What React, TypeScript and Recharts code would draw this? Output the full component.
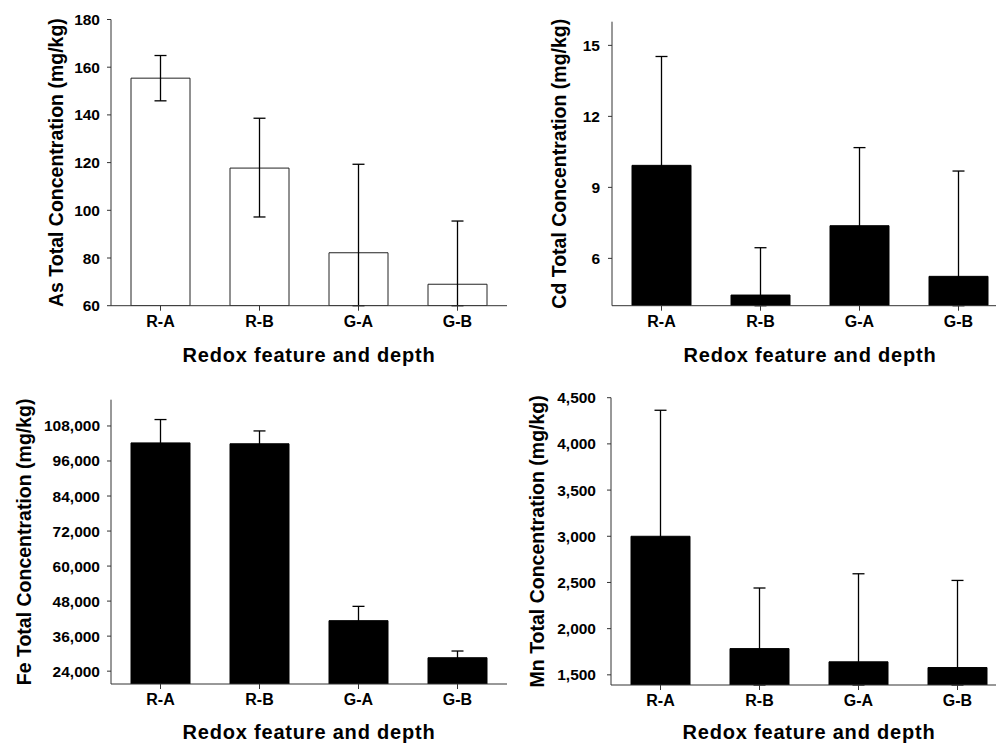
import React from 'react'
import { Bar, BarChart, ErrorBar, Label, XAxis, YAxis } from 'recharts'

const categories = ['R-A', 'R-B', 'G-A', 'G-B']

// As (open bars)
const asValues = [155.4, 117.7, 82.2, 69]
const asErrLow = [9.5, 20.5, 22.2, 9]
const asErrHigh = [9.5, 20.9, 37.1, 26.5]
const asTicks = [60, 80, 100, 120, 140, 160, 180]

// Cd
const cdValues = [9.93, 4.45, 7.38, 5.24]
const cdErrLow = [4.6, 0.45, 3.3, 1.24]
const cdErrHigh = [4.6, 2.0, 3.3, 4.45]
const cdTicks = [6, 9, 12, 15]

// Fe
const feValues = [102200, 101900, 41300, 28600]
const feErrLow = [8000, 4400, 4900, 2300]
const feErrHigh = [8000, 4400, 4900, 2300]
const feTicks = [24000, 36000, 48000, 60000, 72000, 84000, 96000, 108000]

// Mn
const mnValues = [3000, 1784, 1641, 1579]
const mnErrLow = [1364, 394, 251, 189]
const mnErrHigh = [1364, 656, 953, 943]
const mnTicks = [1500, 2000, 2500, 3000, 3500, 4000, 4500]

const font = '"Liberation Sans", Arial, sans-serif'
const axisColor = '#333'

const rows = (values: number[], low: number[], high: number[]) =>
  categories.map((name, i) => ({ name, value: values[i], err: [low[i], high[i]] }))

interface PanelProps {
  left: number
  top: number
  data: any[]
  domain: [number, number]
  ticks: number[]
  yTitle: string
  marginTop: number
  yWidth: number
  xHeight: number
  titleOffset: number
  yTitleDx: number
  tickMargin: number
  filled: boolean
  format?: (v: number) => string
}

const Panel = (p: PanelProps) => {
  return (
    <div style={{ position: 'absolute', left: p.left, top: p.top }}>
      <BarChart
        width={p.yWidth + 396 + 3}
        height={372}
        data={p.data}
        margin={{ top: p.marginTop, right: 3, bottom: 0, left: 0 }}
        style={{ fontFamily: font }}
      >
        <XAxis
          dataKey="name"
          height={p.xHeight}
          stroke={axisColor}
          tickSize={5}
          tickMargin={5}
          tick={{ fill: '#000', fontSize: 16, fontWeight: 'bold' }}
        >
          <Label
            value="Redox feature and depth"
            position="insideBottom"
            offset={p.titleOffset}
            style={{ fill: '#000', fontSize: 20, fontWeight: 'bold', letterSpacing: 0.8 }}
          />
        </XAxis>
        <YAxis
          width={p.yWidth}
          domain={p.domain}
          ticks={p.ticks}
          allowDataOverflow
          stroke={axisColor}
          tickSize={4}
          tickMargin={p.tickMargin}
          tickFormatter={p.format}
          tick={{ fill: '#000', fontSize: 15.5, fontWeight: 'bold' }}
        >
          <Label
            value={p.yTitle}
            angle={-90}
            position="center"
            dx={p.yTitleDx}
            style={{ fill: '#000', fontSize: 19.5, fontWeight: 'bold', textAnchor: 'middle' }}
          />
        </YAxis>
        <Bar
          dataKey="value"
          barSize={59}
          fill={p.filled ? '#000' : '#fff'}
          stroke={p.filled ? '#000' : '#222'}
          strokeWidth={1}
          isAnimationActive={false}
        >
          <ErrorBar dataKey="err" width={6} stroke="#000" strokeWidth={1.3} />
        </Bar>
      </BarChart>
    </div>
  )
}

const thousands = (v: number) => v.toLocaleString('en-US')

export default function App() {
  return (
    <div
      style={{
        position: 'absolute',
        left: 0,
        top: 0,
        width: 996,
        height: 744,
        overflow: 'hidden',
        background: '#fff',
      }}
    >
      <Panel
        left={0}
        top={0}
        data={rows(asValues, asErrLow, asErrHigh)}
        domain={[60, 180]}
        ticks={asTicks}
        yTitle="As Total Concentration (mg/kg)"
        marginTop={19.5}
        yWidth={111}
        xHeight={66.3}
        titleOffset={10}
        yTitleDx={0.5}
        tickMargin={7}
        filled={false}
      />
      <Panel
        left={500}
        top={0}
        data={rows(cdValues, cdErrLow, cdErrHigh)}
        domain={[4, 16]}
        ticks={cdTicks}
        yTitle="Cd Total Concentration (mg/kg)"
        marginTop={21.7}
        yWidth={112}
        xHeight={66.3}
        titleOffset={10}
        yTitleDx={3}
        tickMargin={8}
        filled
      />
      <Panel
        left={0}
        top={372}
        data={rows(feValues, feErrLow, feErrHigh)}
        domain={[19600, 117000]}
        ticks={feTicks}
        yTitle="Fe Total Concentration (mg/kg)"
        marginTop={27.7}
        yWidth={111}
        xHeight={60}
        titleOffset={5}
        yTitleDx={-31.5}
        tickMargin={7}
        filled
        format={thousands}
      />
      <Panel
        left={500}
        top={372}
        data={rows(mnValues, mnErrLow, mnErrHigh)}
        domain={[1390, 4500]}
        ticks={mnTicks}
        yTitle="Mn Total Concentration (mg/kg)"
        marginTop={25.7}
        yWidth={111}
        xHeight={59}
        titleOffset={5}
        yTitleDx={-18.5}
        tickMargin={11}
        filled
        format={thousands}
      />
    </div>
  )
}
